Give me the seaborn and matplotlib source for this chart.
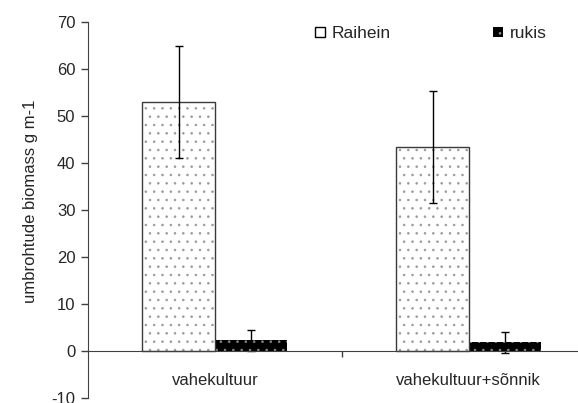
import numpy as np
import pandas as pd
import matplotlib
matplotlib.use("Agg")
import matplotlib.pyplot as plt
import seaborn as sns
from matplotlib.ticker import FixedLocator
from matplotlib.patches import Patch, Rectangle

# data
categories = ["vahekultuur", "vahekultuur+sõnnik"]
series = ["Raihein", "rukis"]
raihein_mean = [53.0, 43.4]
raihein_err = [12.0, 12.0]
rukis_mean = [2.2, 1.8]
rukis_err = [2.2, 2.2]
y_ticks = [-10, 0, 10, 20, 30, 40, 50, 60, 70]

df = pd.DataFrame({
    "kat": categories * 2,
    "sort": [series[0]] * 2 + [series[1]] * 2,
    "val": raihein_mean + rukis_mean,
    "err": raihein_err + rukis_err,
})

sns.set_style("white")
plt.rcParams["font.family"] = ["Liberation Sans", "DejaVu Sans"]
plt.rcParams["axes.unicode_minus"] = False
plt.rcParams["hatch.linewidth"] = 0.6

fig = plt.figure(figsize=(5.78, 4.03), dpi=100)
ax = fig.add_axes([0.152, 0.013, 0.848, 0.932])

sns.barplot(data=df, x="kat", y="val", hue="sort", order=categories,
            hue_order=series, errorbar=None, width=0.57, ax=ax,
            palette=["white", "black"], saturation=1, legend=False)

# style the bars (hatch in grey, outline drawn on top), error bars at bar centres
for i, p in enumerate(list(ax.patches[:4])):
    if i < 2:
        p.set_facecolor("white")
        p.set_edgecolor("#9a9a9a")
    else:
        p.set_facecolor("black")
        p.set_edgecolor("#8a8a8a")
    p.set_linewidth(0.0)
    p.set_hatch("..")
    p.set_zorder(2)
    if i < 2:
        ax.add_patch(Rectangle((p.get_x(), 0), p.get_width(), p.get_height(),
                               fill=False, edgecolor="#3a3a3a", linewidth=1.0, zorder=2.5))
    row = df.iloc[i]
    cx = p.get_x() + p.get_width() / 2
    ax.errorbar(cx, row["val"], yerr=row["err"], fmt="none", ecolor="black",
                elinewidth=1.0, capsize=3, capthick=1.0, zorder=1 if i >= 2 else 3)

ax.set_ylim(-10, 70)
ax.set_xlim(-0.5, 1.43)
ax.set_yticks(y_ticks)
ax.set_ylabel("umbrohtude biomass g m-1", fontsize=12)
ax.yaxis.set_label_coords(-0.102, 0.524)
ax.set_xlabel("")

for s in ["top", "right"]:
    ax.spines[s].set_visible(False)
ax.spines["left"].set_color("#404040")
ax.spines["bottom"].set_position(("data", 0))
ax.spines["bottom"].set_color("#404040")
ax.spines["bottom"].set_zorder(4)
ax.tick_params(axis="y", which="major", direction="out", length=5, width=1,
               left=True, labelsize=12, color="#404040", pad=4)
ax.tick_params(axis="x", which="major", length=0, labelsize=12, pad=16)
ax.xaxis.set_minor_locator(FixedLocator([0.5]))
ax.tick_params(axis="x", which="minor", direction="out", length=4, width=1,
               bottom=True, color="#404040")

# legend in the upper area
handles = [Patch(facecolor="white", edgecolor="black", linewidth=1),
           Patch(facecolor="black", edgecolor="#999999", hatch="..", linewidth=0)]
ax.legend(handles, series, loc="center left", bbox_to_anchor=(0.545, 0.916),
          bbox_transform=fig.transFigure, borderaxespad=0, borderpad=0,
          ncol=2, frameon=False, fontsize=12.5, handlelength=0.55, handleheight=0.55,
          handletextpad=0.4, columnspacing=5.9)

fig.savefig("out.png", dpi=100)
